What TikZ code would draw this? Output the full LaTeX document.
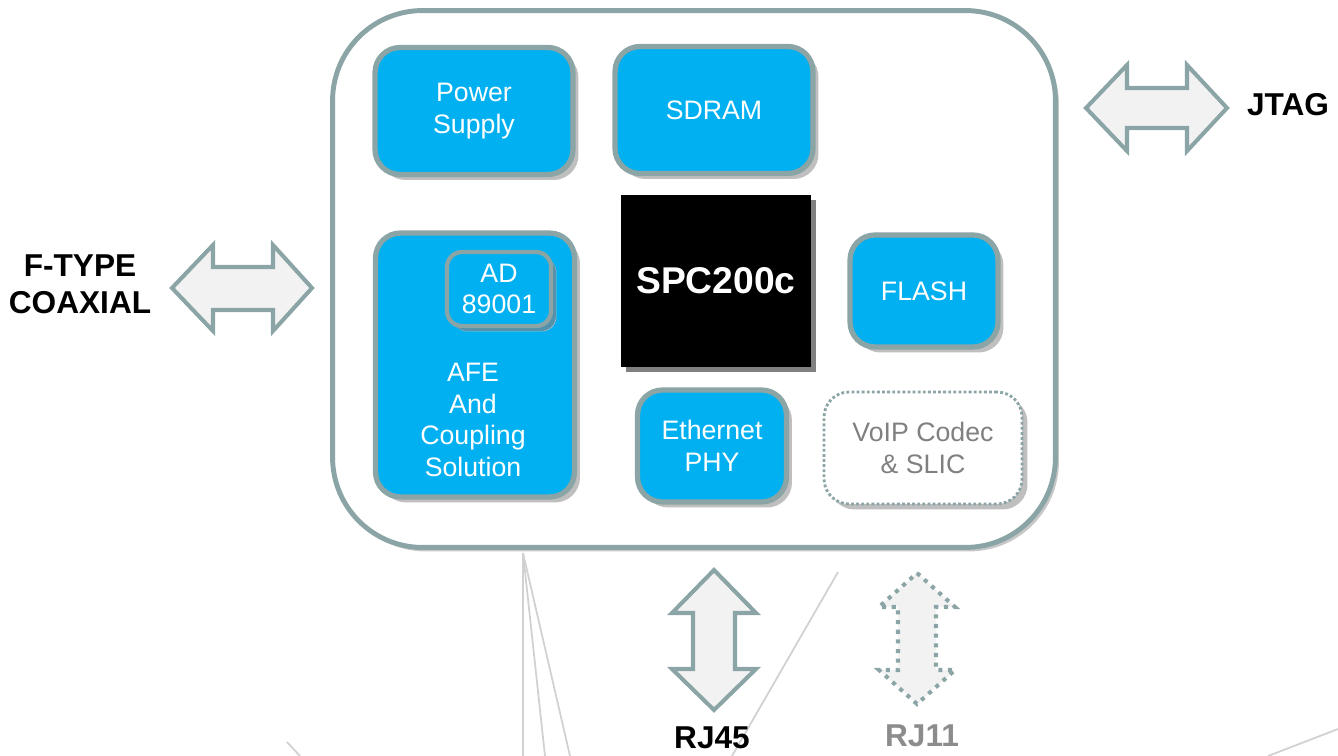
\documentclass[tikz,border=0pt]{standalone}
\usepackage{fontspec}
\setmainfont{Liberation Sans}
\usepackage{tikz}
\usetikzlibrary{shadows,positioning}
\definecolor{edge}{RGB}{139,164,165}
\definecolor{chipblue}{RGB}{0,176,240}
\definecolor{portfill}{RGB}{242,242,242}
\definecolor{adshadow}{RGB}{84,146,172}

\begin{document}
\begin{tikzpicture}[x=0.02cm,y=-0.02cm,
  board/.style={draw=edge,line width=2.8pt,fill=white,rounded corners=1.8cm,
    minimum width=14.46cm,minimum height=10.74cm,
    drop shadow={shadow xshift=0.07cm,shadow yshift=-0.08cm,fill=black!22,opacity=1}},
  blk/.style={draw=edge,line width=3pt,fill=chipblue,rounded corners=0.5cm,
    text=white,align=center,font=\fontsize{15.2}{18}\selectfont,
    drop shadow={shadow xshift=0.11cm,shadow yshift=-0.11cm,fill=black!25,opacity=1}},
  chip/.style={fill=black,text=white,font=\bfseries\fontsize{21.2}{24}\selectfont,
    minimum width=3.82cm,minimum height=3.46cm,
    drop shadow={shadow xshift=0.1cm,shadow yshift=-0.1cm,fill=black!50,opacity=1}},
  port/.style={draw=edge,line width=2.3pt,fill=portfill,line join=miter},
  lbl/.style={font=\bfseries\fontsize{18}{21}\selectfont,align=center},
  faint/.style={draw=black!18,line width=1pt}]
  \useasboundingbox (0,0) rectangle (1338,756);

  % faint lines in the background
  \draw[faint] (523,553) -- (523,756);
  \draw[faint] (523,553) -- (545,756);
  \draw[faint] (523,553) -- (570,756);
  \draw[faint] (838,572) -- (732,756);
  \draw[faint] (287,742) -- (300,756);
  \draw[faint] (1338,729) -- (1268,756);

  % board
  \node[board] (board) at (694,279) {};

  % blocks
  \node[blk,minimum width=3.96cm,minimum height=2.54cm] (pwr) at (474,111) {Power\\Supply};
  \node[blk,minimum width=3.96cm,minimum height=2.54cm] (sdram) at (714,110) {SDRAM};
  \node[blk,minimum width=3.98cm,minimum height=5.28cm] (afe) at (475,365) {};
  \node[blk,minimum width=2.08cm,minimum height=1.48cm,rounded corners=0.3cm,line width=2.4pt,
    drop shadow={shadow xshift=0.1cm,shadow yshift=-0.1cm,fill=adshadow,opacity=1}] (ad) at (499,289) {AD\\89001};
  \node[text=white,align=center,font=\fontsize{15.2}{18}\selectfont] (afetxt) at (473,420) {AFE\\And\\Coupling\\Solution};
  \node[chip] (spc) at (716,281) {SPC200c};
  \node[blk,minimum width=2.96cm,minimum height=2.24cm] (flash) at (924,291) {FLASH};
  \node[blk,minimum width=2.98cm,minimum height=2.24cm] (phy) at (712,446) {Ethernet\\PHY};
  \node[blk,minimum width=3.96cm,minimum height=2.24cm,fill=white,text=black!50,
    line width=1.6pt,dash pattern=on 1.6pt off 1.3pt] (voip) at (923,448) {VoIP Codec\\\& SLIC};

  % ports
  \draw[port] (172,288) -- (213,245) -- (213,267) -- (273,267) -- (273,245) -- (312,288)
    -- (273,331) -- (273,310) -- (213,310) -- (213,331) -- cycle;
  \draw[port] (1086,108) -- (1127,65) -- (1127,88) -- (1187,88) -- (1187,65) -- (1227,108)
    -- (1187,151) -- (1187,128) -- (1127,128) -- (1127,151) -- cycle;
  \draw[port] (714,570) -- (756,613) -- (735,613) -- (735,669) -- (756,669) -- (714,710)
    -- (672,669) -- (693,669) -- (693,613) -- (672,613) -- cycle;
  \draw[port,dash pattern=on 2.3pt off 3.2pt] (917,573) -- (955,607) -- (936,607) -- (936,670)
    -- (955,670) -- (917,704) -- (879,670) -- (898,670) -- (898,607) -- (879,607) -- cycle;

  % labels
  \node[lbl] (coax) at (80,284) {F-TYPE\\COAXIAL};
  \node[lbl] (jtag) at (1288,105) {JTAG};
  \node[lbl] (rj45) at (712,738) {RJ45};
  \node[lbl,text=black!45] (rj11) at (922,736) {RJ11};
\end{tikzpicture}
\end{document}
